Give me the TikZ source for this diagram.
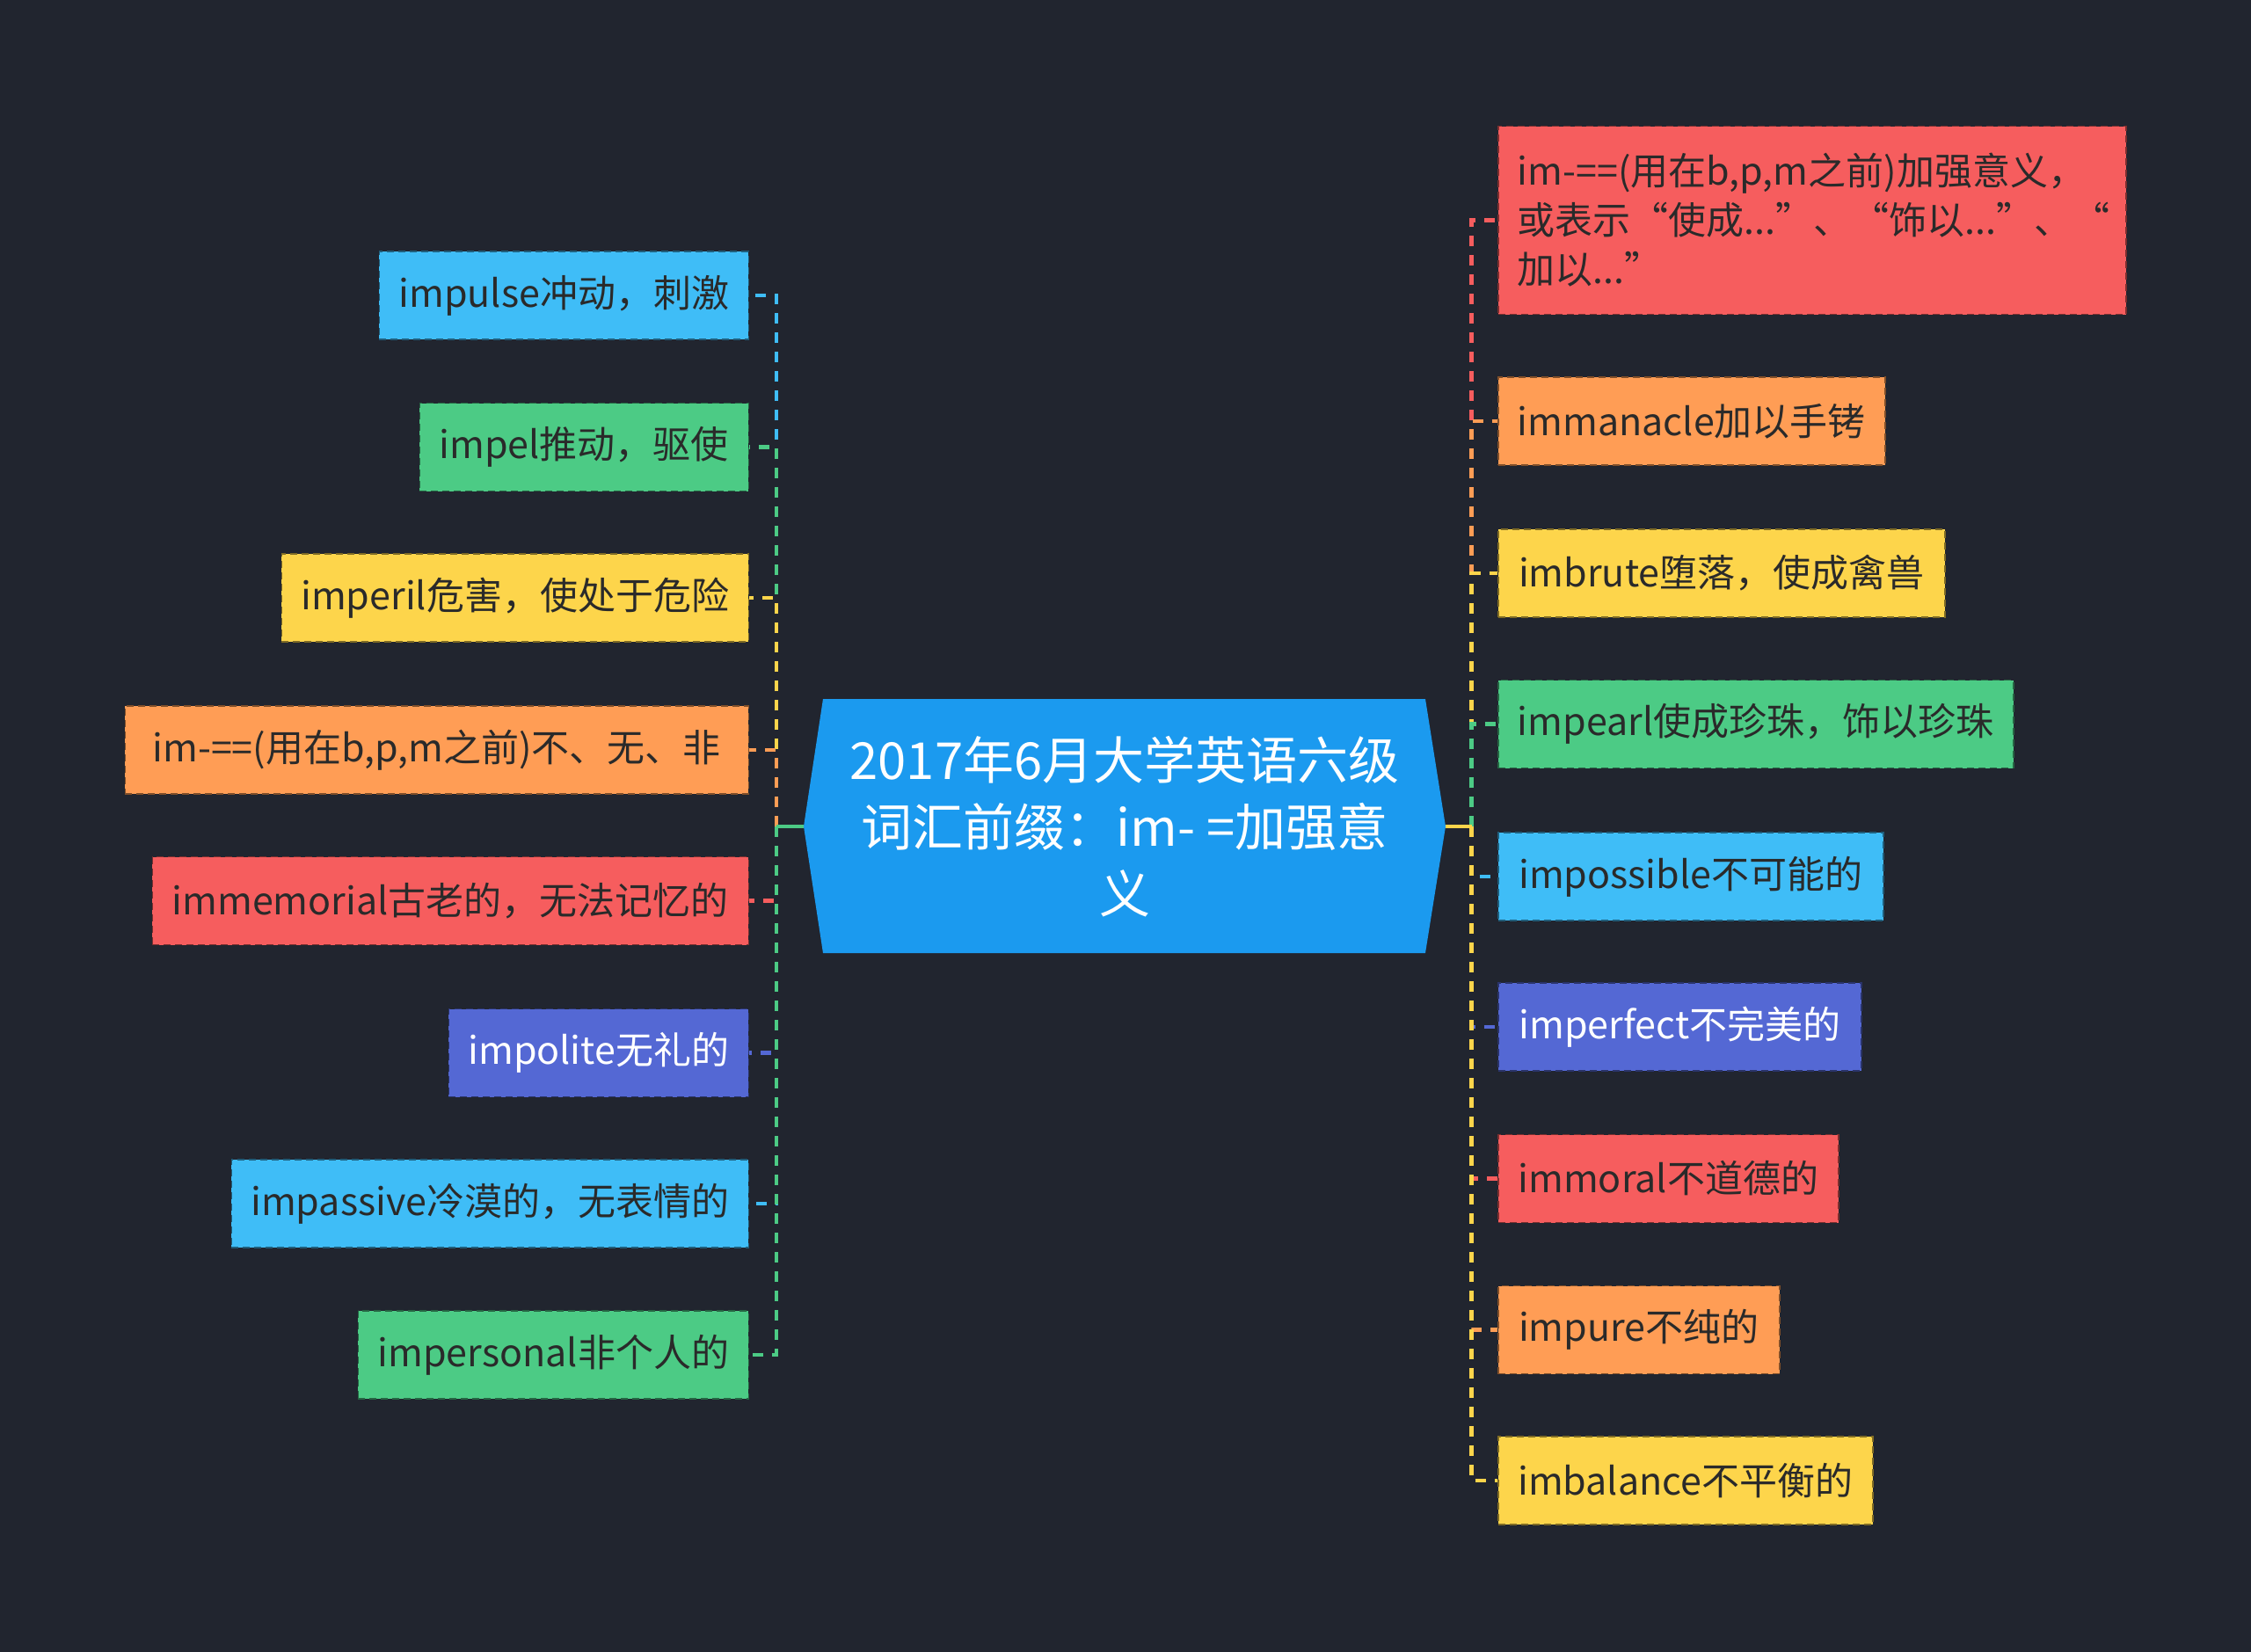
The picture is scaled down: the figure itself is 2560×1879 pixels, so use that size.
\documentclass[tikz,border=0pt]{standalone}
\usepackage{fontspec}
\setmainfont{Noto Sans CJK SC}
\usetikzlibrary{calc}
\definecolor{bg}{HTML}{21252F}
\definecolor{cblue}{HTML}{1B9AEF}
\definecolor{lblue}{HTML}{3FBDF7}
\definecolor{cgreen}{HTML}{4CCB85}
\definecolor{cyellow}{HTML}{FDD54B}
\definecolor{corange}{HTML}{FF9D55}
\definecolor{cred}{HTML}{F65D5E}
\definecolor{cindigo}{HTML}{5468D4}
\definecolor{tdark}{HTML}{2A2A2A}
\tikzset{
  leaf/.style={draw=#1!50!black, fill=#1, dash pattern=on 8pt off 5pt, line width=1.5pt,
    minimum height=100pt, inner xsep=22pt, inner ysep=0pt,
    font=\fontsize{43}{56}\selectfont, text=tdark},
  wleaf/.style={leaf=#1, text=white},
  conn/.style={draw=#1, line width=4.5pt, dash pattern=on 12pt off 10pt},
  stub/.style={draw=#1, line width=4.5pt},
}
\begin{document}
\begin{tikzpicture}[x=1pt,y=-1pt]
\path[fill=bg] (0,0) rectangle (2560,1879);
% center
\coordinate (cl) at (914,940);
\coordinate (cr) at (1644,940);
\fill[cblue] (936,795) -- (1621,795) -- (cr) -- (1621,1084) -- (936,1084) -- (cl) -- cycle;
\node[align=center, text=white, font=\fontsize{58}{76}\selectfont] (c) at (1279,940)
  {2017年6月大学英语六级\\词汇前缀：im- =加强意\\义};
\coordinate (jl) at (883,940);
\coordinate (jr) at (1673.5,940);
% left nodes
\node[leaf=lblue, minimum width=420pt, anchor=east] (L1) at (852,336) {impulse冲动，刺激};
\node[leaf=cgreen, minimum width=374pt, anchor=east] (L2) at (852,508.5) {impel推动，驱使};
\node[leaf=cyellow, minimum width=531pt, anchor=east] (L3) at (852,680) {imperil危害，使处于危险};
\node[leaf=corange, minimum width=709pt, anchor=east] (L4) at (852,853) {im-==(用在b,p,m之前)不、无、非};
\node[leaf=cred, minimum width=678pt, anchor=east] (L5) at (852,1024.5) {immemorial古老的，无法记忆的};
\node[wleaf=cindigo, minimum width=341pt, anchor=east] (L6) at (852,1197.5) {impolite无礼的};
\node[leaf=lblue, minimum width=588pt, anchor=east] (L7) at (852,1369) {impassive冷漠的，无表情的};
\node[leaf=cgreen, minimum width=444pt, anchor=east] (L8) at (852,1541) {impersonal非个人的};
% right nodes
\node[leaf=cred, minimum width=714pt, minimum height=214pt, anchor=west, align=left,
  text width=670pt, inner xsep=22pt] (R1) at (1703,250.5)
  {im-==(用在b,p,m之前)加强意义，\\或表示“使成...”、“饰以...”、“\\加以...”};
\node[leaf=corange, minimum width=439pt, anchor=west] (R2) at (1703,479) {immanacle加以手铐};
\node[leaf=cyellow, minimum width=508pt, anchor=west] (R3) at (1703,652) {imbrute堕落，使成禽兽};
\node[leaf=cgreen, minimum width=586pt, anchor=west] (R4) at (1703,823.5) {impearl使成珍珠，饰以珍珠};
\node[leaf=lblue, minimum width=438pt, anchor=west] (R5) at (1703,997) {impossible不可能的};
\node[wleaf=cindigo, minimum width=413pt, anchor=west] (R6) at (1703,1168) {imperfect不完美的};
\node[leaf=cred, minimum width=387pt, anchor=west] (R7) at (1703,1340.5) {immoral不道德的};
\node[leaf=corange, minimum width=320pt, anchor=west] (R8) at (1703,1512.5) {impure不纯的};
\node[leaf=cyellow, minimum width=426pt, anchor=west] (R9) at (1703,1684) {imbalance不平衡的};
% left connectors
\draw[conn=lblue] (jl) |- (L1.east);
\draw[conn=cgreen] (jl) |- (L2.east);
\draw[conn=cyellow] (jl) |- (L3.east);
\draw[conn=corange] (jl) |- (L4.east);
\draw[conn=cred] (jl) |- (L5.east);
\draw[conn=cindigo] (jl) |- (L6.east);
\draw[conn=lblue] (jl) |- (L7.east);
\draw[conn=cgreen] (jl) |- (L8.east);
\draw[stub=cgreen] (cl) -- (jl);
% right connectors
\draw[conn=cred] (jr) |- (R1.west);
\draw[conn=corange] (jr) |- (R2.west);
\draw[conn=cyellow] (jr) |- (R3.west);
\draw[conn=cgreen] (jr) |- (R4.west);
\draw[conn=lblue] (jr) |- (R5.west);
\draw[conn=cindigo] (jr) |- (R6.west);
\draw[conn=cred] (jr) |- (R7.west);
\draw[conn=corange] (jr) |- (R8.west);
\draw[conn=cyellow] (jr) |- (R9.west);
\draw[stub=cyellow] (cr) -- (jr);
\end{tikzpicture}
\end{document}
